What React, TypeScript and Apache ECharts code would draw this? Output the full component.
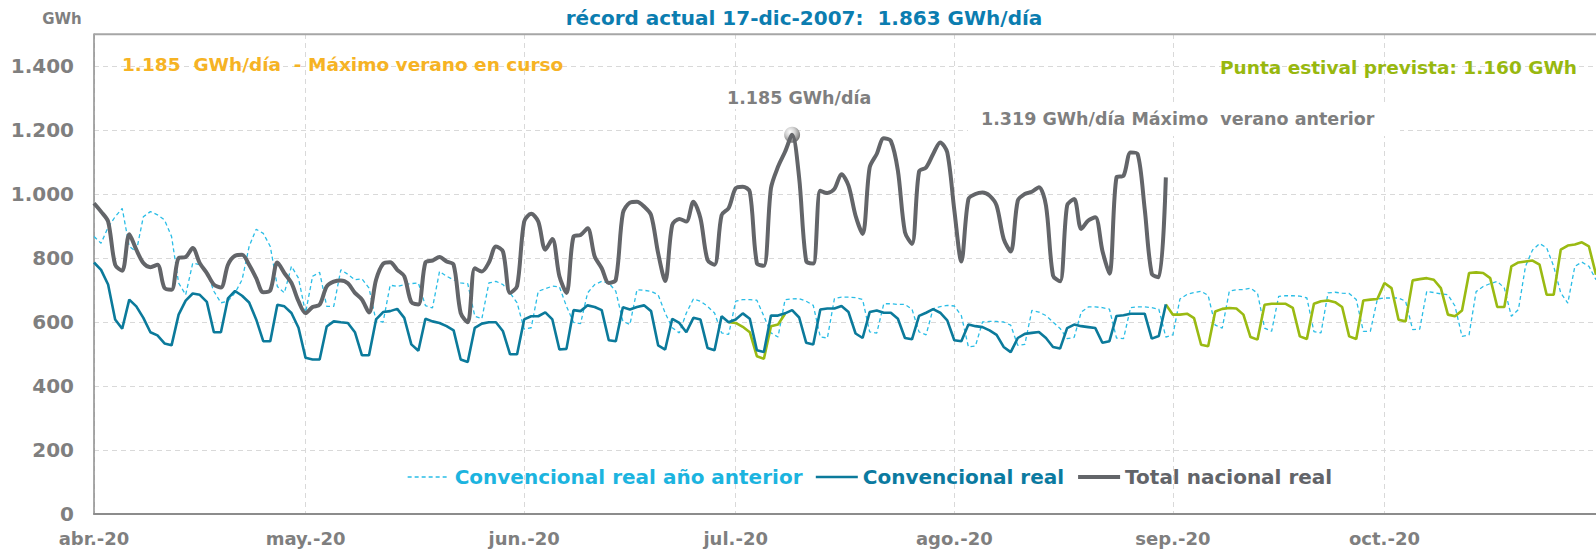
import React, { useEffect, useRef } from "react";
import * as echarts from "echarts";

// ---------- DATA ----------
const START_DATE = "2020-04-01";
const DAY_COUNT = 214; // 1 abr 2020 .. 31 oct 2020

const MONTH_LABELS: Record<string, string> = {
  "04": "abr.-20",
  "05": "may.-20",
  "06": "jun.-20",
  "07": "jul.-20",
  "08": "ago.-20",
  "09": "sep.-20",
  "10": "oct.-20",
};

// Total nacional real (GWh/día), 1 abr .. 31 ago 2020
const TOTAL_NACIONAL = [
  971, 945, 914, 779, 760, 874, 826, 784, 771, 779,
  706, 701, 800, 803, 831, 784, 753, 717, 708, 779,
  807, 810, 779, 737, 693, 699, 786, 753, 722, 665,
  628, 647, 654, 711, 726, 730, 721, 691, 670, 630,
  732, 782, 787, 763, 743, 662, 655, 786, 792, 803,
  789, 779, 628, 599, 768, 758, 786, 836, 820, 691,
  712, 914, 938, 914, 826, 859, 743, 691, 867, 872,
  893, 805, 768, 722, 732, 940, 973, 976, 961, 934,
  815, 728, 903, 922, 914, 976, 924, 794, 779, 934,
  956, 1018, 1023, 1007, 784, 776, 1018, 1085, 1132, 1185,
  1050, 790, 783, 1010, 1003, 1016, 1062, 1026, 932, 875,
  1083, 1125, 1174, 1166, 1073, 881, 844, 1070, 1083, 1125,
  1161, 1130, 950, 789, 984, 1000, 1005, 995, 964, 860,
  820, 979, 1000, 1007, 1021, 964, 745, 727, 964, 984,
  891, 917, 927, 823, 751, 1052, 1057, 1130, 1125, 953,
  751, 740, 1052,
];

// Convencional real (GWh/día), 1 abr .. 31 ago 2020
const CONVENCIONAL_REAL = [
  786, 763, 717, 608, 579, 670, 649, 613, 568, 558,
  533, 527, 623, 667, 689, 685, 663, 568, 568, 674,
  697, 682, 661, 608, 540, 540, 654, 649, 628, 582,
  488, 483, 483, 586, 602, 599, 597, 568, 496, 496,
  608, 631, 634, 641, 613, 530, 510, 610, 602, 597,
  587, 574, 483, 475, 582, 595, 599, 599, 571, 499,
  499, 608, 618, 618, 630, 608, 514, 516, 637, 634,
  652, 647, 637, 543, 540, 646, 639, 647, 652, 634,
  527, 514, 610, 597, 568, 613, 608, 519, 512, 618,
  599, 608, 627, 610, 512, 506, 620, 620, 627, 637,
  614, 535, 530, 639, 642, 642, 650, 631, 564, 550,
  631, 636, 629, 629, 610, 550, 546, 619, 629, 640,
  629, 605, 543, 540, 592, 587, 584, 574, 560, 522,
  506, 550, 563, 566, 569, 550, 522, 517, 581, 592,
  587, 584, 581, 535, 540, 619, 621, 626, 626, 626,
  548, 556, 655,
];

// Convencional real año anterior (GWh/día), 1 abr .. 31 oct
const CONVENCIONAL_ANTERIOR = [
  867, 846, 896, 929, 955, 836, 820, 929, 945, 935,
  919, 867, 722, 685, 784, 779, 758, 696, 660, 665,
  691, 732, 836, 890, 877, 836, 711, 691, 774, 737,
  628, 743, 755, 649, 649, 763, 749, 732, 735, 706,
  603, 600, 715, 711, 717, 720, 722, 651, 644, 758,
  743, 732, 722, 720, 618, 610, 722, 727, 717, 691,
  660, 578, 582, 696, 704, 712, 710, 649, 599, 595,
  691, 717, 727, 722, 696, 602, 592, 701, 699, 696,
  685, 628, 582, 566, 628, 672, 665, 649, 628, 566,
  561, 665, 670, 670, 668, 618, 566, 553, 670, 672,
  673, 665, 652, 553, 550, 673, 678, 678, 676, 670,
  569, 565, 657, 657, 655, 655, 640, 569, 560, 642,
  648, 652, 650, 620, 522, 525, 600, 602, 602, 600,
  590, 527, 530, 636, 631, 620, 600, 580, 548, 552,
  631, 647, 647, 645, 640, 550, 548, 645, 647, 647,
  645, 640, 553, 560, 672, 686, 692, 696, 683, 590,
  581, 696, 701, 701, 706, 690, 581, 571, 680, 682,
  682, 681, 675, 570, 566, 691, 693, 690, 689, 670,
  571, 571, 672, 675, 675, 675, 665, 576, 578, 696,
  692, 688, 685, 650, 555, 560, 695, 711, 720, 727,
  706, 618, 639, 774, 825, 845, 832, 774, 691, 659,
  774, 787, 774, 732,
];

// Previsión (green), two visible stretches
const PREVISION_JULIO_START = "2020-06-30";
const PREVISION_JULIO = [599, 597, 585, 568, 493, 485, 587, 592, 626];
const PREVISION_OTONO_START = "2020-08-31";
const PREVISION_OTONO = [
  655, 623, 623, 626, 612, 529, 524, 633,
  641, 644, 642, 623, 553, 545, 654, 657, 657, 657,
  644, 555, 547, 657, 665, 667, 662, 647, 555, 547,
  667, 670, 672, 722, 706, 607, 602, 730, 734, 737,
  732, 706, 623, 618, 636, 753, 755, 753, 737, 647,
  647, 774, 786, 789, 792, 779, 685, 685, 826, 839,
  842, 849, 836, 748,
];

const Y_MAX = 1500;
const Y_INTERVAL = 200;

const TITLE = "récord actual 17-dic-2007:  1.863 GWh/día";
const NOTE_CURRENT = "1.185  GWh/día  - Máximo verano en curso";
const NOTE_FORECAST = "Punta estival prevista: 1.160 GWh";
const NOTE_PEAK = "1.185 GWh/día";
const NOTE_PREVIOUS = "1.319 GWh/día Máximo  verano anterior";

const NAME_PREV = "Convencional real año anterior";
const NAME_CONV = "Convencional real";
const NAME_TOTAL = "Total nacional real";
const NAME_FORECAST = "Previsión";

// ---------- helpers ----------
function buildDates(start: string, n: number): string[] {
  const out: string[] = [];
  const d = new Date(start + "T00:00:00Z");
  for (let i = 0; i < n; i++) {
    const c = new Date(d.getTime() + i * 86400000);
    out.push(c.toISOString().slice(0, 10));
  }
  return out;
}

function placeSeries(dates: string[], start: string, values: number[]) {
  const arr: (number | null)[] = dates.map(() => null);
  const s = dates.indexOf(start);
  values.forEach((v, i) => {
    if (s + i < arr.length) arr[s + i] = v;
  });
  return arr;
}

function fmtThousands(v: number): string {
  return String(v).replace(/\B(?=(\d{3})+(?!\d))/g, ".");
}

const FONT = "DejaVu Sans";

export default function App() {
  const ref = useRef<HTMLDivElement>(null);

  useEffect(() => {
    if (!ref.current) return;
    const chart = echarts.init(ref.current, null, { renderer: "svg" });

    const dates = buildDates(START_DATE, DAY_COUNT);
    const isMonthStart = (_: number, v: string) => v.slice(8, 10) === "01";
    const forecast = dates.map(() => null as number | null);
    placeSeries(dates, PREVISION_JULIO_START, PREVISION_JULIO).forEach((v, i) => {
      if (v !== null) forecast[i] = v;
    });
    placeSeries(dates, PREVISION_OTONO_START, PREVISION_OTONO).forEach((v, i) => {
      if (v !== null) forecast[i] = v;
    });

    let peakIdx = 0;
    TOTAL_NACIONAL.forEach((v, i) => {
      if (v > TOTAL_NACIONAL[peakIdx]) peakIdx = i;
    });

    const gray = "#7f7f7f";

    chart.setOption({
      animation: false,
      grid: { left: 94, right: 0, top: 34, bottom: 35, containLabel: false },
      xAxis: {
        type: "category",
        data: dates,
        boundaryGap: false,
        axisLine: { show: true, lineStyle: { color: "#8c8c8c", width: 2 } },
        axisTick: { show: false },
        axisLabel: {
          interval: isMonthStart,
          formatter: (v: string) => MONTH_LABELS[v.slice(5, 7)] || "",
          color: gray,
          fontFamily: FONT,
          fontWeight: "bold",
          fontSize: 18,
          margin: 15,
        },
        splitLine: {
          show: true,
          interval: isMonthStart,
          lineStyle: { color: "#d9d9d9", type: [5, 4], width: 1 },
        },
      },
      yAxis: {
        type: "value",
        min: 0,
        max: Y_MAX,
        interval: Y_INTERVAL,
        axisLine: { show: true, lineStyle: { color: "#8c8c8c", width: 1.5 } },
        axisTick: { show: false },
        axisLabel: {
          showMaxLabel: false,
          formatter: (v: number) => fmtThousands(v),
          color: gray,
          fontFamily: FONT,
          fontWeight: "bold",
          fontSize: 20,
          margin: 20,
        },
        splitLine: {
          show: true,
          lineStyle: { color: "#d9d9d9", type: [5, 4], width: 1 },
        },
      },
      legend: {
        left: 402,
        top: 462,
        itemWidth: 42,
        itemHeight: 14,
        itemGap: 12,
        selectedMode: false,
        itemStyle: { opacity: 0 },
        textStyle: { fontFamily: FONT, fontWeight: "bold", fontSize: 20 },
        data: [
          {
            name: NAME_PREV,
            textStyle: { color: "#1cb4df" },
            lineStyle: { color: "#29bde6", width: 1.3, type: [4, 3] },
          },
          {
            name: NAME_CONV,
            textStyle: { color: "#0b7aa0" },
            lineStyle: { color: "#0b7a9b", width: 2.6 },
          },
          {
            name: NAME_TOTAL,
            textStyle: { color: "#626469" },
            lineStyle: { color: "#636569", width: 4 },
          },
        ],
      },
      series: [
        {
          name: NAME_PREV,
          type: "line",
          data: CONVENCIONAL_ANTERIOR,
          symbol: "none",
          z: 2,
          lineStyle: { color: "#29bde6", width: 1.3, type: [4, 3] },
          itemStyle: { color: "#29bde6" },
        },
        {
          name: NAME_FORECAST,
          type: "line",
          data: forecast,
          symbol: "none",
          connectNulls: false,
          z: 3,
          lineStyle: { color: "#9aba12", width: 2.6 },
          itemStyle: { color: "#9aba12" },
        },
        {
          name: NAME_CONV,
          type: "line",
          data: CONVENCIONAL_REAL,
          symbol: "none",
          z: 4,
          lineStyle: { color: "#0b7a9b", width: 2.6 },
          itemStyle: { color: "#0b7a9b" },
        },
        {
          name: NAME_TOTAL,
          type: "line",
          data: TOTAL_NACIONAL,
          symbol: "none",
          smooth: 0.3,
          z: 5,
          lineStyle: { color: "#636569", width: 4 },
          itemStyle: { color: "#636569" },
          markPoint: {
            symbol: "circle",
            symbolSize: 16,
            label: { show: false },
            itemStyle: {
              opacity: 1,
              color: new echarts.graphic.RadialGradient(0.38, 0.32, 0.7, [
                { offset: 0, color: "#ffffff" },
                { offset: 0.45, color: "#d0d0d0" },
                { offset: 1, color: "#707070" },
              ]),
            },
            data: [{ coord: [dates[peakIdx], TOTAL_NACIONAL[peakIdx]] }],
          },
        },
      ],
      graphic: [
        {
          type: "line",
          z: 10,
          shape: { x1: 94, y1: 34.3, x2: 1596, y2: 34.3 },
          style: { stroke: "#a6a6a6", lineWidth: 2 },
        },
        {
          type: "rect",
          z: 1,
          shape: { x: 968, y: 106, width: 432, height: 30 },
          style: { fill: "#ffffff" },
        },
        {
          type: "rect",
          z: 1,
          shape: { x: 722, y: 88, width: 154, height: 21 },
          style: { fill: "#ffffff" },
        },
        {
          type: "text",
          z: 10,
          x: 804,
          y: 18,
          style: {
            text: TITLE,
            fill: "#0b7db0",
            font: `bold 20px "${FONT}"`,
            textAlign: "center",
            textVerticalAlign: "middle",
          },
        },
        {
          type: "text",
          z: 10,
          x: 62,
          y: 19,
          style: {
            text: "GWh",
            fill: gray,
            font: `bold 15px "${FONT}"`,
            textAlign: "center",
            textVerticalAlign: "middle",
          },
        },
        {
          type: "text",
          z: 10,
          x: 122,
          y: 64,
          style: {
            text: NOTE_CURRENT,
            fill: "#f6b324",
            font: `bold 18.5px "${FONT}"`,
            textAlign: "left",
            textVerticalAlign: "middle",
          },
        },
        {
          type: "text",
          z: 10,
          x: 1577,
          y: 67,
          style: {
            text: NOTE_FORECAST,
            fill: "#98b80f",
            font: `bold 18.5px "${FONT}"`,
            textAlign: "right",
            textVerticalAlign: "middle",
          },
        },
        {
          type: "text",
          z: 10,
          x: 727,
          y: 98,
          style: {
            text: NOTE_PEAK,
            fill: gray,
            font: `bold 17.5px "${FONT}"`,
            textAlign: "left",
            textVerticalAlign: "middle",
          },
        },
        {
          type: "text",
          z: 10,
          x: 981,
          y: 119,
          style: {
            text: NOTE_PREVIOUS,
            fill: gray,
            font: `bold 17.5px "${FONT}"`,
            textAlign: "left",
            textVerticalAlign: "middle",
          },
        },
      ],
    });

    return () => chart.dispose();
  }, []);

  return (
    <div
      ref={ref}
      style={{ position: "fixed", left: 0, top: 0, width: 1596, height: 549, background: "#ffffff" }}
    />
  );
}
